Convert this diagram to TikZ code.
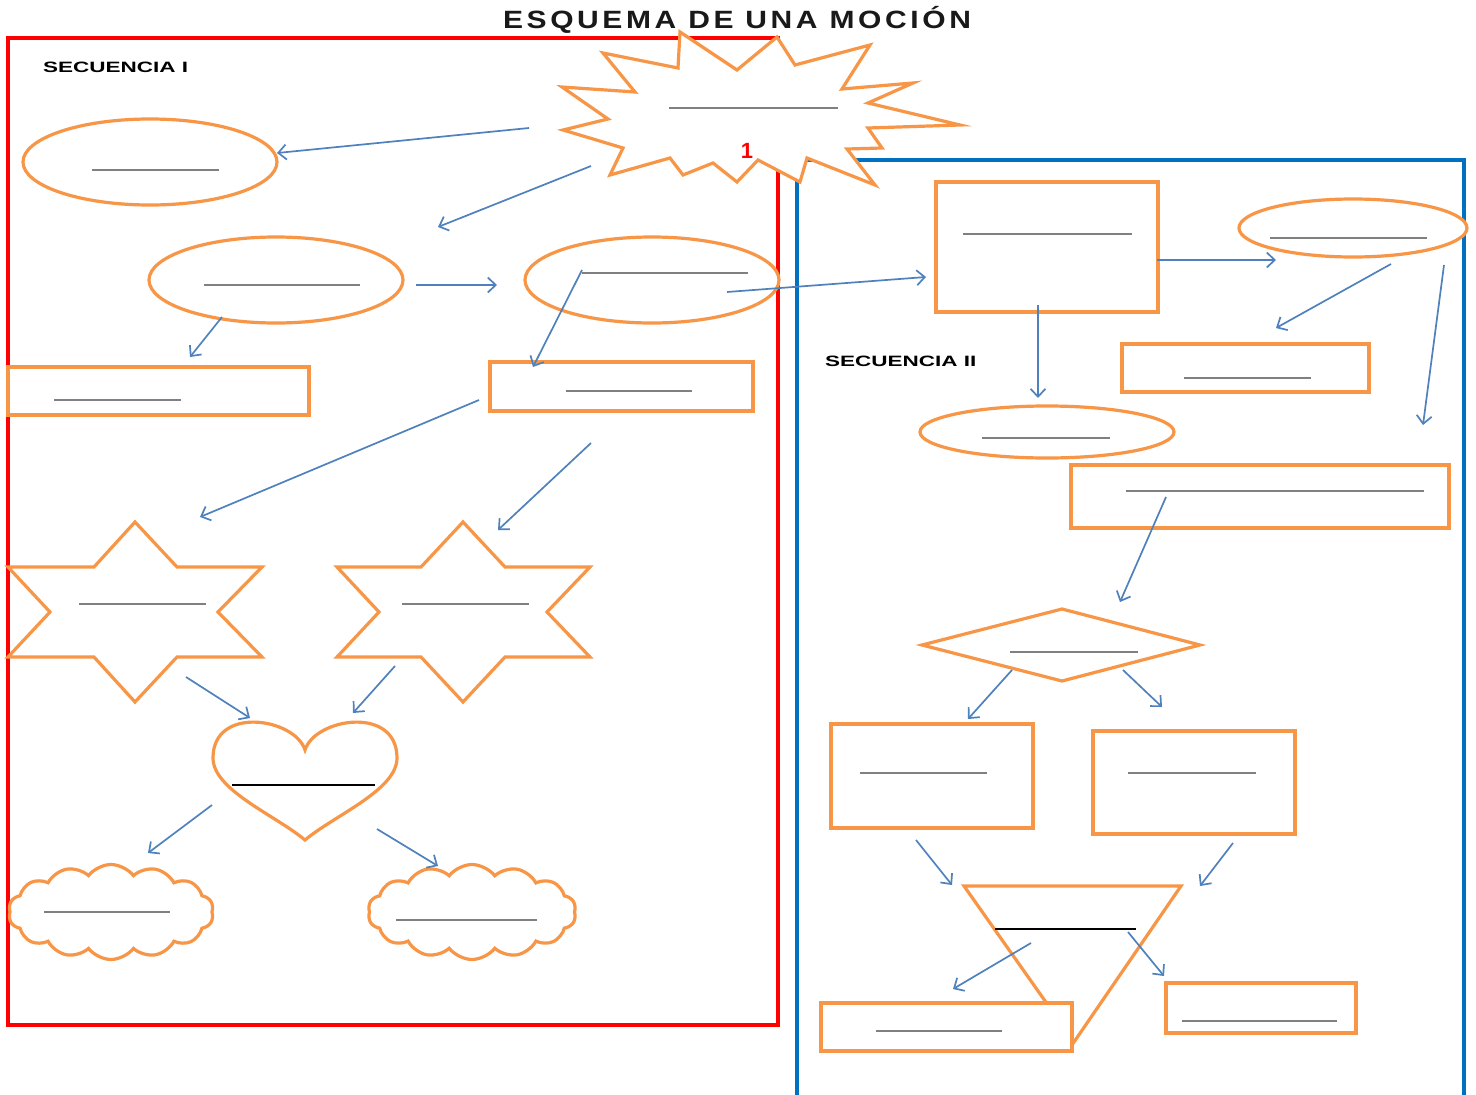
\documentclass[tikz,border=0pt]{standalone}
\usepackage{fontspec}
\usepackage{graphicx}
\setmainfont{Liberation Sans}
\newfontfamily\ttlfont[LetterSpace=12]{Liberation Sans}
\usetikzlibrary{shapes.symbols,shapes.geometric,arrows.meta}
\definecolor{org}{RGB}{247,150,70}
\definecolor{arrb}{RGB}{79,129,189}
\definecolor{boxb}{RGB}{0,112,192}
\definecolor{ulg}{RGB}{128,128,128}
\begin{document}
\begin{tikzpicture}[x=1pt,y=-1pt,
  shp/.style={draw=org, line width=3.2pt, fill=white, line join=miter},
  ell/.style={shp, ellipse, inner sep=0pt},
  box/.style={shp, rectangle, inner sep=0pt},
  cld/.style={shp, cloud, cloud puffs=14, cloud puff arc=105, aspect=2.2, inner sep=0pt},
  ul/.style={draw=ulg, line width=1.5pt},
  ulk/.style={draw=black, line width=1.8pt},
  arr/.style={draw=arrb, line width=1.7pt, -{Straight Barb[length=8pt,width=15pt]}},
  lbl/.style={font=\bfseries\fontsize{15}{18}\selectfont, anchor=west, inner sep=0pt}
]
\useasboundingbox (0,0) rectangle (1476,1095);
\fill[white] (0,0) rectangle (1476,1095);

% frames
\draw[red, line width=3.5pt] (8,38) rectangle (778,1025);
\draw[boxb, line width=3.5pt] (797,1100) -- (797,160) -- (1464,160) -- (1464,1100);

% title and labels
\node[font=\ttlfont\bfseries\fontsize{25}{30}\selectfont, text=black!90, inner sep=0pt] (title) at (737,20) {\scalebox{1.2}[1]{ESQUEMA DE UNA MOCIÓN}};
\node[lbl] (seq1) at (43,67) {\scalebox{1.5}[1]{SECUENCIA I}};
\node[lbl] (seq2) at (825,361) {\scalebox{1.5}[1]{SECUENCIA II}};

% ---------- Secuencia I ----------
\node[ell, minimum width=254pt, minimum height=86pt] (e1) at (150,162) {};
\node[ell, minimum width=254pt, minimum height=86pt] (e2) at (276,280) {};
\node[ell, minimum width=254pt, minimum height=86pt] (e3) at (652,280) {};
\node[box, minimum width=301pt, minimum height=48pt] (r1) at (158.5,391) {};
\node[box, minimum width=263pt, minimum height=49pt] (r2) at (621.5,386.5) {};

\draw[shp] (135,522) -- (177,567) -- (262,567) -- (218,612) -- (262,657) -- (177,657) -- (135,702) -- (94,657) -- (8,657) -- (50,612) -- (8,567) -- (94,567) -- cycle;
\coordinate (starL) at (135,612);
\draw[shp] (463,522) -- (505,567) -- (590,567) -- (547,612) -- (590,657) -- (505,657) -- (463,702) -- (421,657) -- (337,657) -- (379,612) -- (337,567) -- (421,567) -- cycle;
\coordinate (starR) at (463,612);

\draw[shp] (305,750) .. controls (295,718) and (213,705) .. (213,758) .. controls (213,790) and (275,815) .. (305,840) .. controls (335,815) and (397,790) .. (397,758) .. controls (397,705) and (315,718) .. (305,750) -- cycle;
\coordinate (heart) at (305,780);

\node[cld, minimum width=205pt, minimum height=95pt] (c1) at (111,912) {};
\node[cld, minimum width=208pt, minimum height=95pt] (c2) at (472,912) {};

% starburst
\draw[shp] (680,32) -- (737,70) -- (777,37) -- (795,65) -- (870,45) -- (842,89) -- (913,83) -- (868,103) -- (960,125) -- (868,128) -- (882,148) -- (847,149) -- (875,185) -- (807,158) -- (800,182) -- (758,160) -- (737,182) -- (713,163) -- (683,175) -- (670,158) -- (610,175) -- (623,148) -- (563,130) -- (608,119) -- (562,87) -- (635,92) -- (603,53) -- (678,68) -- cycle;
\coordinate (burst) at (760,110);
\node[text=red, font=\bfseries\fontsize{22}{24}\selectfont, inner sep=0pt] (one) at (747,151) {1};

% ---------- Secuencia II ----------
\node[box, minimum width=222pt, minimum height=130pt] (rA) at (1047,247) {};
\node[ell, minimum width=228pt, minimum height=58pt] (eB) at (1353,228) {};
\node[box, minimum width=247pt, minimum height=48pt] (rC) at (1245.5,368) {};
\node[ell, minimum width=254pt, minimum height=52pt] (eD) at (1047,432) {};
\node[box, minimum width=378pt, minimum height=63pt] (rE) at (1260,496.5) {};
\draw[shp] (922,645) -- (1062,609) -- (1200,645) -- (1062,681) -- cycle;
\coordinate (dia) at (1062,645);
\node[box, minimum width=202pt, minimum height=104pt] (rF) at (932,776) {};
\node[box, minimum width=202pt, minimum height=103pt] (rG) at (1194,782.5) {};
\draw[shp] (964,886) -- (1181,886) -- (1074,1042) -- cycle;
\coordinate (tri) at (1072,930);
\node[box, minimum width=251pt, minimum height=48pt] (rH) at (946.5,1027) {};
\node[box, minimum width=190pt, minimum height=50pt] (rI) at (1261,1008) {};

% underlines
\foreach \xa/\xb/\yy in {92/219/170, 204/360/285, 582/748/273, 54/181/400, 566/692/391,
   79/206/604, 402/529/604, 44/170/912, 396/537/920, 669/838/108,
   963/1132/234, 1270/1427/238, 1184/1311/378, 982/1110/438, 1126/1424/491,
   1010/1138/652, 860/987/773, 1128/1256/773, 876/1002/1031, 1182/1337/1021}
  {\draw[ul] (\xa,\yy) -- (\xb,\yy);}
\draw[ulk] (232,785) -- (375,785);
\draw[ulk] (995,929) -- (1136,929);

% arrows
\foreach \n/\xa/\ya/\xb/\yb in {1/529/128/277/153, 2/591/166/438/227, 3/416/285/497/285,
   4/727/292/926/277, 5/582/270/533/367, 6/222/317/190/357, 7/479/400/200/517,
   8/591/443/498/530, 9/186/677/250/718, 10/395/666/353/713, 11/212/805/148/853,
   12/377/829/438/866, 13/1157/260/1276/260, 14/1391/264/1276/328, 15/1444/265/1423/425,
   16/1038/305/1038/398, 17/1166/497/1120/602, 18/1012/670/968/719, 19/1123/670/1162/707,
   20/916/840/952/885, 21/1233/843/1200/886, 22/1031/943/953/989, 23/1128/932/1164/976}
  {\coordinate (s\n) at (\xa,\ya); \coordinate (t\n) at (\xb,\yb); \draw[arr] (s\n) -- (t\n);}
\end{tikzpicture}
\end{document}
